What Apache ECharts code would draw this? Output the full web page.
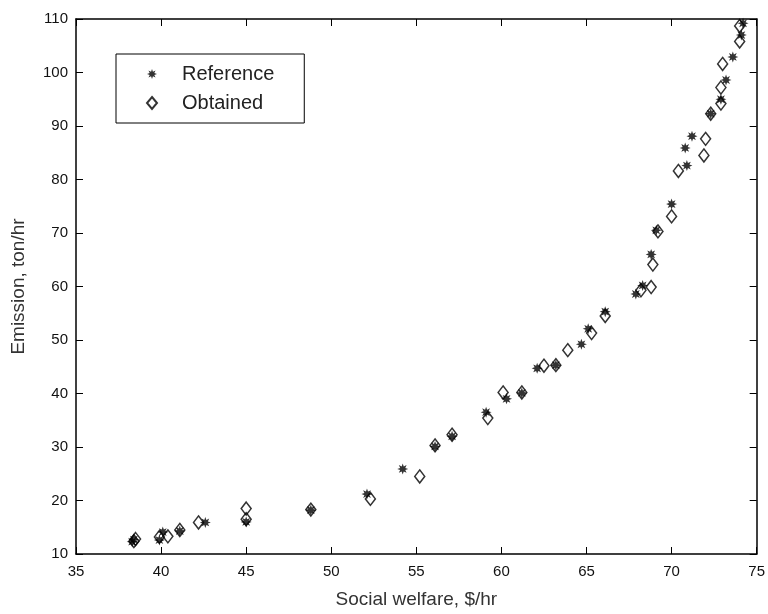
<!DOCTYPE html>
<html>
<head>
<meta charset="utf-8">
<script src="https://cdn.jsdelivr.net/npm/echarts@6/dist/echarts.min.js"></script>
<style>
  html, body { margin: 0; padding: 0; background: #fff; }
  #chart { width: 768px; height: 614px; }
</style>
</head>
<body>
<div id="chart"></div>
<script>
// reference solution (x: social welfare, y: emission)
const referenceData = [
  [38.3, 12.3], [38.4, 12.7], [39.9, 12.6], [40.1, 14.1], [41.1, 14.3],
  [42.6, 15.9], [45.0, 16.0], [48.8, 18.2], [52.1, 21.2], [54.2, 25.9],
  [56.1, 30.1], [57.1, 32.0], [59.1, 36.5], [60.3, 39.0], [61.2, 40.1],
  [62.1, 44.7], [63.2, 45.3], [64.7, 49.2], [65.1, 52.1], [66.1, 55.3],
  [67.9, 58.6], [68.3, 60.2], [68.8, 66.0], [69.1, 70.5], [70.0, 75.4],
  [70.9, 82.6], [70.8, 85.9], [71.2, 88.1], [72.3, 92.3], [72.9, 95.0],
  [73.2, 98.6], [73.6, 102.9], [74.1, 107.0], [74.2, 109.2]
]
// obtained solution
const obtainedData = [
  [38.4, 12.4], [38.5, 12.8], [39.9, 13.2], [40.4, 13.3], [41.1, 14.5],
  [42.2, 15.9], [45.0, 16.5], [45.0, 18.5], [48.8, 18.3], [52.3, 20.3],
  [55.2, 24.5], [56.1, 30.3], [57.1, 32.3], [59.2, 35.4], [60.1, 40.2],
  [61.2, 40.2], [62.5, 45.2], [63.2, 45.3], [63.9, 48.1], [65.3, 51.3],
  [66.1, 54.5], [68.2, 59.3], [68.8, 59.9], [68.9, 64.1], [69.2, 70.3],
  [70.0, 73.1], [70.4, 81.6], [71.9, 84.5], [72.0, 87.6], [72.3, 92.3],
  [72.9, 94.2], [72.9, 97.2], [73.0, 101.6], [74.0, 105.8], [74.0, 108.7]
]
const seriesNames = ['Reference', 'Obtained']
const xRange = [35, 75]
const yRange = [10, 110]

// matlab-ish '*' marker, drawn as a chunky 8-point star
const starPath = 'path://M10,0 L4.6,1.9 L7.07,7.07 L1.9,4.6 L0,10 L-1.9,4.6 L-7.07,7.07 L-4.6,1.9 L-10,0 L-4.6,-1.9 L-7.07,-7.07 L-1.9,-4.6 L0,-10 L1.9,-4.6 L7.07,-7.07 L4.6,-1.9 Z'

const font = 'Liberation Sans, Arial, sans-serif'
const axisLine = { show: true, onZero: false, lineStyle: { color: '#000', width: 1.5 } }

const chart = echarts.init(document.getElementById('chart'))
chart.setOption({
  animation: false,
  backgroundColor: '#fff',
  grid: { left: 76, right: 9, top: 19, bottom: 59, containLabel: false },
  legend: {
    orient: 'vertical',
    left: 116,
    top: 54,
    data: seriesNames,
    backgroundColor: '#fff',
    borderColor: '#000',
    borderWidth: 1,
    borderRadius: 0,
    padding: [10, 30, 10, 30],
    itemGap: 9,
    itemWidth: 10,
    itemHeight: 12,
    textStyle: { fontFamily: font, fontSize: 20, color: '#222', padding: [0, 0, 0, 20] }
  },
  xAxis: [{
    type: 'value',
    min: xRange[0],
    max: xRange[1],
    interval: 5,
    name: 'Social welfare, $/hr',
    nameLocation: 'middle',
    nameGap: 36,
    nameTextStyle: { fontFamily: font, fontSize: 19, color: '#333' },
    axisLine,
    axisTick: { inside: true, length: 7, lineStyle: { color: '#000' } },
    axisLabel: { fontFamily: font, fontSize: 15, color: '#111', margin: 10 },
    splitLine: { show: false }
  }, {
    type: 'value',
    position: 'top',
    min: xRange[0],
    max: xRange[1],
    interval: 5,
    axisLine,
    axisTick: { inside: true, length: 7, lineStyle: { color: '#000' } },
    axisLabel: { show: false },
    splitLine: { show: false }
  }],
  yAxis: [{
    type: 'value',
    min: yRange[0],
    max: yRange[1],
    interval: 10,
    name: 'Emission, ton/hr',
    nameLocation: 'middle',
    nameGap: 48,
    nameTextStyle: { fontFamily: font, fontSize: 19, color: '#333' },
    axisLine,
    axisTick: { inside: true, length: 7, lineStyle: { color: '#000' } },
    axisLabel: { fontFamily: font, fontSize: 15, color: '#111', margin: 8 },
    splitLine: { show: false }
  }, {
    type: 'value',
    position: 'right',
    min: yRange[0],
    max: yRange[1],
    interval: 10,
    axisLine,
    axisTick: { inside: true, length: 7, lineStyle: { color: '#000' } },
    axisLabel: { show: false },
    splitLine: { show: false }
  }],
  series: [{
    name: seriesNames[0],
    type: 'scatter',
    data: referenceData,
    symbol: starPath,
    symbolSize: 11,
    itemStyle: { color: '#000' }
  }, {
    name: seriesNames[1],
    type: 'scatter',
    data: obtainedData,
    symbol: 'diamond',
    symbolSize: [10, 13],
    itemStyle: { color: 'rgba(255,255,255,0)', borderColor: '#000', borderWidth: 1.5 }
  }]
})
</script>
</body>
</html>
